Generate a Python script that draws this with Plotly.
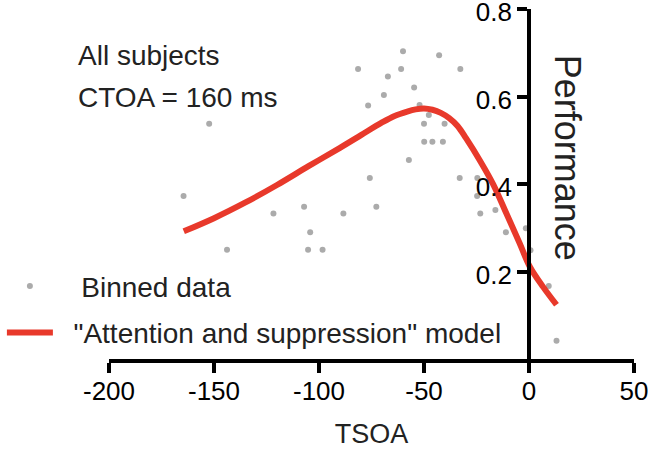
import plotly.graph_objects as go

# Binned data (TSOA, performance)
tsoa_bins = [-164.5, -152.3, -143.8, -121.7, -107.1, -104.2, -105.2, -98.3, -88.4,
             -81.4, -76.6, -75.8, -72.7, -69.1, -67.2, -60.9, -60.0, -57.2, -54.7,
             -52.1, -50.0, -47.7, -49.9, -46.0, -42.8, -41.0, -40.2, -32.7, -33.0,
             -24.6, -24.7, -23.2, -16.0, -11.0, -1.5, 0.7, 9.4, 13.1]
perf_bins = [0.373, 0.538, 0.25, 0.333, 0.348, 0.29, 0.25, 0.25, 0.333,
             0.663, 0.58, 0.414, 0.348, 0.604, 0.646, 0.663, 0.704, 0.455, 0.621,
             0.581, 0.538, 0.558, 0.497, 0.497, 0.695, 0.497, 0.538, 0.663, 0.414,
             0.414, 0.373, 0.333, 0.341, 0.29, 0.299, 0.249, 0.167, 0.042]

# "Attention and suppression" model curve
tsoa_model = [-164.4, -150, -135, -120, -105, -90, -80, -70, -64, -58, -54, -50, -46,
              -42, -38, -34, -30, -23.4, -17.1, -10.7, -4.4, 0.4, 6.7, 13.1]
perf_model = [0.292, 0.322, 0.358, 0.398, 0.441, 0.483, 0.512, 0.541, 0.556, 0.566,
              0.571, 0.573, 0.570, 0.563, 0.551, 0.533, 0.505, 0.454, 0.400, 0.332,
              0.264, 0.211, 0.165, 0.124]

x_ticks = [-200, -150, -100, -50, 0, 50]
y_ticks = [0.2, 0.4, 0.6, 0.8]

FONT = "Liberation Sans, Arial, Helvetica, sans-serif"
NB = "\u00a0"

fig = go.Figure()
fig.add_trace(go.Scatter(
    x=tsoa_bins, y=perf_bins, mode="markers", name=NB * 3 + "Binned data",
    marker=dict(color="#ababab", size=6), legendgroup="a", cliponaxis=False))
fig.add_trace(go.Scatter(
    x=tsoa_model, y=perf_model, mode="lines",
    name=NB * 2 + "\"Attention and suppression\" model",
    line=dict(color="#e8392b", width=6, shape="spline", smoothing=1.0), legendgroup="b",
    cliponaxis=False))

fig.update_layout(
    width=648, height=452,
    margin=dict(l=109, r=14, t=9, b=93, autoexpand=False),
    plot_bgcolor="white", paper_bgcolor="white",
    font=dict(family=FONT, color="#111111"),
    showlegend=True,
    legend=dict(x=-0.204, y=0.279, xanchor="left", yanchor="top",
                bgcolor="rgba(0,0,0,0)", font=dict(size=28, color="#222222"),
                itemwidth=46, tracegroupgap=7, traceorder="grouped"),
    xaxis=dict(range=[-200, 50], tickvals=x_ticks, ticktext=[str(v) for v in x_ticks],
               showgrid=False, zeroline=False, showline=True, linecolor="black",
               linewidth=4, ticks="outside", ticklen=10, tickwidth=4, tickcolor="black",
               tickfont=dict(size=26, color="black", family=FONT),
               ticklabeloverflow="allow", ticklabelstandoff=-4,
               title=dict(text="TSOA", font=dict(size=27, color="#222222", family=FONT),
                          standoff=20)),
    yaxis=dict(range=[0, 0.8005], tickvals=y_ticks, ticktext=["0.2", "0.4", "0.6", "0.8"],
               anchor="free", position=0.8004, side="left",
               showgrid=False, zeroline=False, showline=True, linecolor="black",
               linewidth=4, ticks="outside", ticklen=10, tickwidth=4, tickcolor="black",
               tickfont=dict(size=26, color="black", family=FONT),
               ticklabeloverflow="allow", ticklabelshift=3),
)

fig.add_annotation(text="Performance", textangle=90, xref="paper", yref="paper",
                   x=0.8724, y=0.575, xanchor="center", yanchor="middle",
                   showarrow=False, font=dict(size=36, color="#222222", family=FONT))
fig.add_annotation(text="All subjects", xref="paper", yref="paper",
                   x=(76 - 109) / 525, y=(359 - 56) / 350, xanchor="left", yanchor="middle",
                   showarrow=False, font=dict(size=28, color="#222222", family=FONT))
fig.add_annotation(text="CTOA = 160 ms", xref="paper", yref="paper",
                   x=(76 - 109) / 525, y=(359 - 97) / 350, xanchor="left", yanchor="middle",
                   showarrow=False, font=dict(size=28, color="#222222", family=FONT))

fig.write_html("out.html", config={"displayModeBar": False},
               post_script="document.body.style.margin='0';"
                           "document.body.style.overflow='hidden';")
